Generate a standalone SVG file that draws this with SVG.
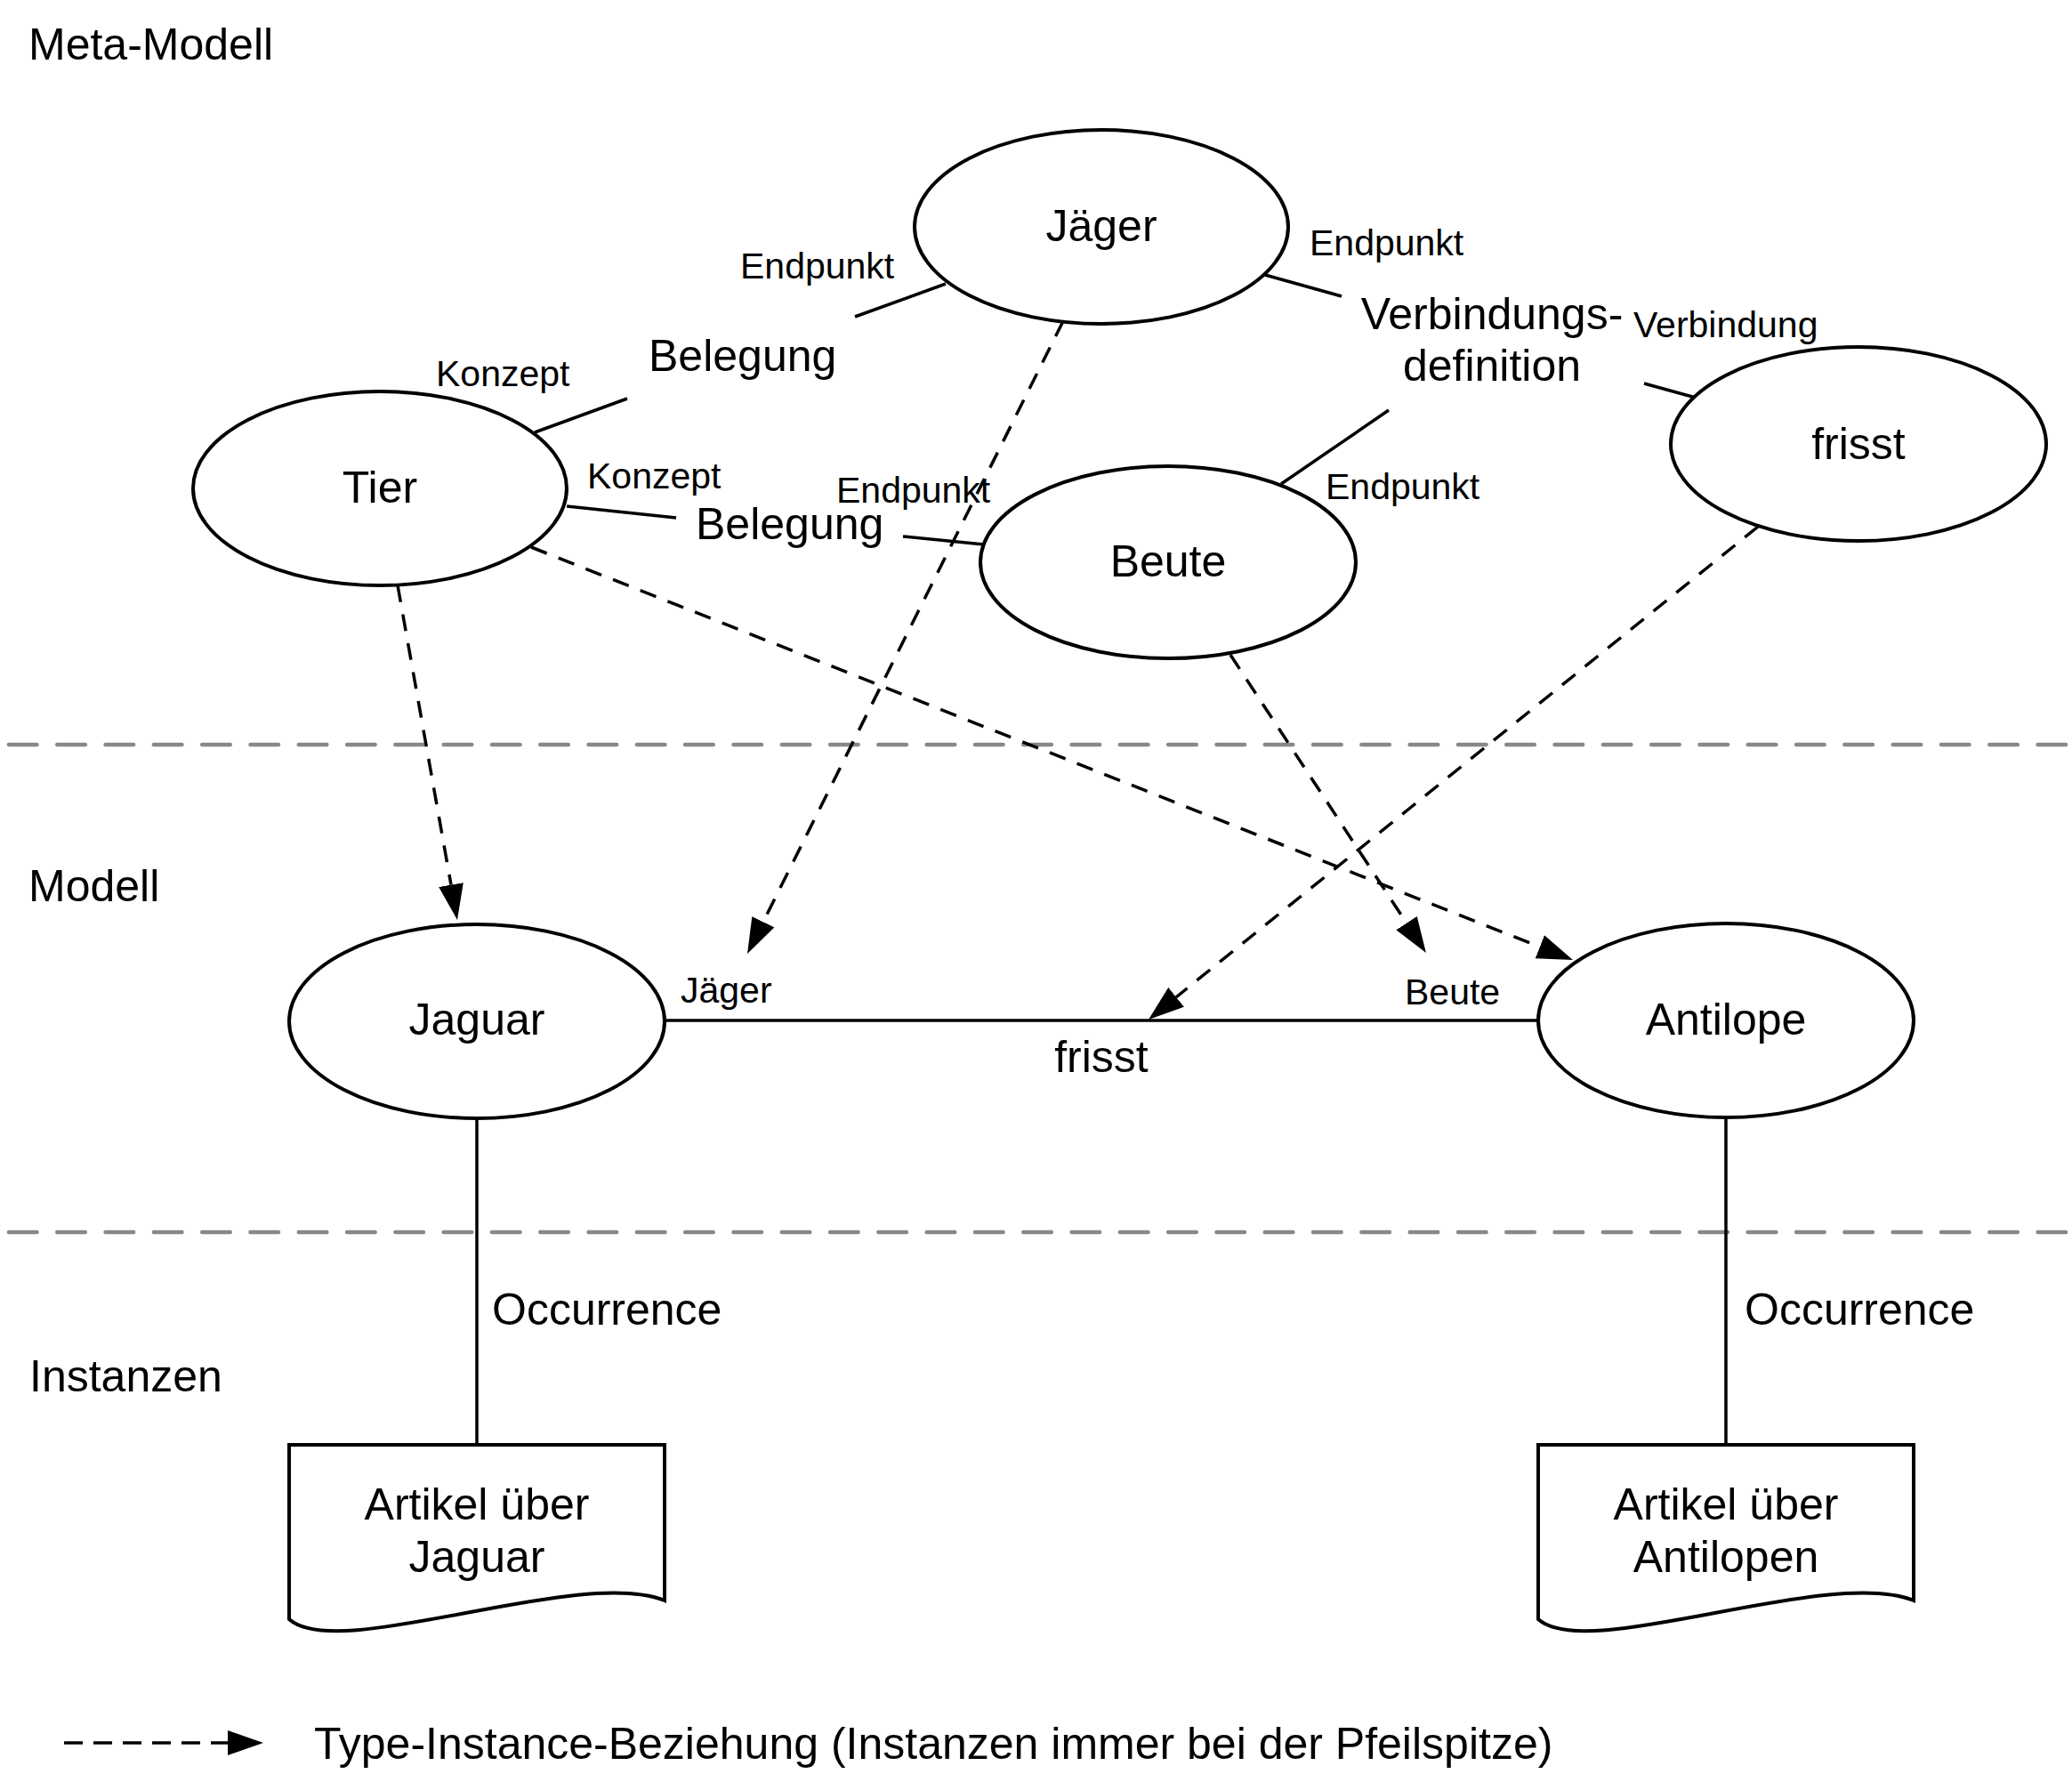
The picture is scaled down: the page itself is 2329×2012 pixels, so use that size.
<svg xmlns="http://www.w3.org/2000/svg" width="2329" height="2012" viewBox="0 0 2329 2012">
<style>
text{font-family:"Liberation Sans",Arial,Helvetica,sans-serif;fill:#000}
.L{font-size:50px}
.S{font-size:41px}
.c{text-anchor:middle}
.node{fill:#fff;stroke:#000;stroke-width:4}
.solid{fill:none;stroke:#000;stroke-width:3.5}
.dash{fill:none;stroke:#000;stroke-width:3.5;stroke-dasharray:19 14}
.sep{fill:none;stroke:#888;stroke-width:4.6;stroke-dasharray:31.5 22.8;stroke-linecap:round}
</style>
<defs>
<marker id="ah" markerUnits="userSpaceOnUse" viewBox="0 0 40 28" markerWidth="40" markerHeight="28" refX="0" refY="14" orient="auto">
<path d="M0,0 L40,14 L0,28 Z" fill="#000"/>
</marker>
</defs>
<rect width="2329" height="2012" fill="#fff"/>

<g id="layers">
<line class="sep" x1="10" y1="837" x2="2329" y2="837"/>
<line class="sep" x1="10" y1="1385" x2="2329" y2="1385"/>
<text class="L" x="32" y="67">Meta-Modell</text>
<text class="L" x="32" y="1013">Modell</text>
<text class="L" x="33" y="1564">Instanzen</text>
</g>

<g id="connectors">
<line class="solid" x1="1063" y1="319" x2="961" y2="356"/>
<line class="solid" x1="601" y1="486" x2="705" y2="448"/>
<line class="solid" x1="637" y1="569" x2="760" y2="582"/>
<line class="solid" x1="1015" y1="603" x2="1106" y2="612"/>
<line class="solid" x1="1422" y1="309" x2="1508" y2="333"/>
<line class="solid" x1="1561" y1="461" x2="1440" y2="544"/>
<line class="solid" x1="1848" y1="431" x2="1906" y2="447"/>
<line class="solid" x1="747" y1="1147" x2="1729" y2="1147"/>
<line class="solid" x1="536" y1="1257" x2="536" y2="1624"/>
<line class="solid" x1="1940" y1="1256" x2="1940" y2="1624"/>
<line class="dash" x1="447" y1="658" x2="507" y2="994.6" marker-end="url(#ah)"/>
<line class="dash" x1="1195" y1="361" x2="857.9" y2="1036.2" marker-end="url(#ah)"/>
<line class="dash" x1="597" y1="615" x2="1730.8" y2="1064.3" marker-end="url(#ah)"/>
<line class="dash" x1="1383" y1="736" x2="1581" y2="1037.6" marker-end="url(#ah)"/>
<line class="dash" x1="1976" y1="592" x2="1322.1" y2="1120.8" marker-end="url(#ah)"/>
<text class="S" x="832" y="313">Endpunkt</text>
<text class="L" x="729" y="417">Belegung</text>
<text class="S" x="490" y="434">Konzept</text>
<text class="S" x="660" y="549">Konzept</text>
<text class="L" x="782" y="606">Belegung</text>
<text class="S" x="940" y="565">Endpunkt</text>
<text class="S" x="1472" y="287">Endpunkt</text>
<text class="L c" x="1677" y="370">Verbindungs-</text>
<text class="L c" x="1677" y="428">definition</text>
<text class="S" x="1490" y="561">Endpunkt</text>
<text class="S" x="1836" y="379">Verbindung</text>
<text class="S" x="765" y="1127">Jäger</text>
<text class="S" x="1579" y="1129">Beute</text>
<text class="L c" x="1238" y="1205">frisst</text>
<text class="L" x="553" y="1489">Occurrence</text>
<text class="L" x="1961" y="1489">Occurrence</text>
</g>

<g id="jaeger">
<ellipse class="node" cx="1238" cy="255" rx="210" ry="109"/>
<text class="L c" x="1238" y="271">Jäger</text>
</g>
<g id="tier">
<ellipse class="node" cx="427" cy="549" rx="210" ry="109"/>
<text class="L c" x="427" y="565">Tier</text>
</g>
<g id="beute">
<ellipse class="node" cx="1313" cy="632" rx="211" ry="108"/>
<text class="L c" x="1313" y="648">Beute</text>
</g>
<g id="frisst-meta">
<ellipse class="node" cx="2089" cy="499" rx="211" ry="109"/>
<text class="L c" x="2089" y="516">frisst</text>
</g>
<g id="jaguar">
<ellipse class="node" cx="536" cy="1148" rx="211" ry="109"/>
<text class="L c" x="536" y="1163">Jaguar</text>
</g>
<g id="antilope">
<ellipse class="node" cx="1940" cy="1147" rx="211" ry="109"/>
<text class="L c" x="1940" y="1163">Antilope</text>
</g>
<g id="doc-jaguar">
<path class="node" d="M325,1624 H747 V1799 C650,1760 380,1870 325,1820 Z"/>
<text class="L c" x="536" y="1708">Artikel über</text>
<text class="L c" x="536" y="1767">Jaguar</text>
</g>
<g id="doc-antilope">
<path class="node" d="M1729,1624 H2151 V1799 C2054,1760 1784,1870 1729,1820 Z"/>
<text class="L c" x="1940" y="1708">Artikel über</text>
<text class="L c" x="1940" y="1767">Antilopen</text>
</g>

<g id="legend">
<line x1="72" y1="1959" x2="256" y2="1959" stroke="#000" stroke-width="3.5" stroke-dasharray="21 12" marker-end="url(#ah)"/>
<text class="L" x="353" y="1977">Type-Instance-Beziehung (Instanzen immer bei der Pfeilspitze)</text>
</g>
</svg>
